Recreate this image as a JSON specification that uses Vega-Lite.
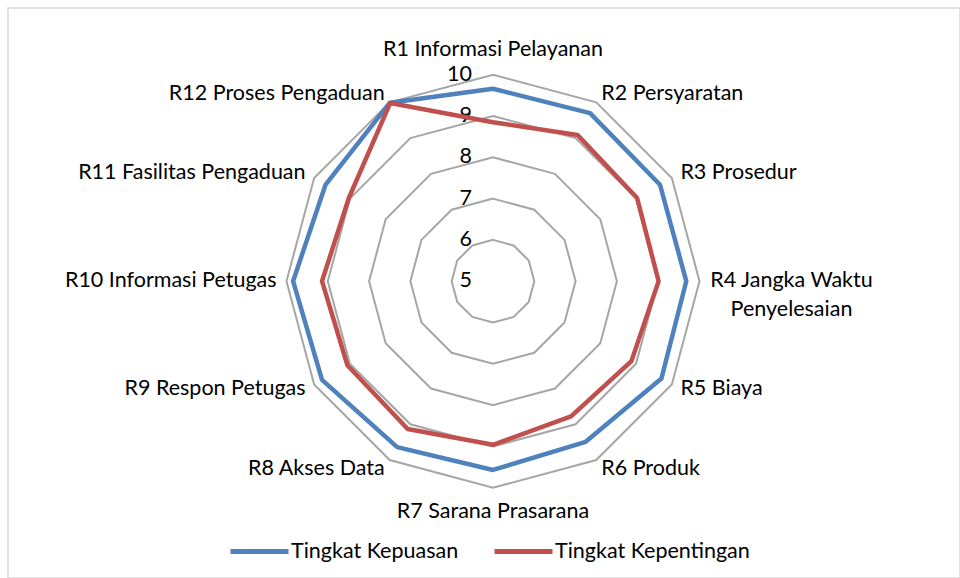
{
  "$schema": "https://vega.github.io/schema/vega-lite/v6.json",
  "width": 952,
  "height": 570,
  "autosize": {"type": "none"},
  "padding": {"left": 8, "top": 8, "right": 0, "bottom": 0},
  "background": "white",
  "config": {
    "view": {"stroke": "#D9D9D9", "strokeWidth": 1.5},
    "text": {"font": "Lato", "fontSize": 21.5, "color": "#000000"}
  },
  "datasets": {
    "cats": [
      {"idx": 0, "name": "R1 Informasi Pelayanan", "Tingkat Kepuasan": 9.66, "Tingkat Kepentingan": 8.85},
      {"idx": 1, "name": "R2 Persyaratan", "Tingkat Kepuasan": 9.70, "Tingkat Kepentingan": 9.09},
      {"idx": 2, "name": "R3 Prosedur", "Tingkat Kepuasan": 9.67, "Tingkat Kepentingan": 9.03},
      {"idx": 3, "name": "R4 Jangka Waktu\nPenyelesaian", "Tingkat Kepuasan": 9.68, "Tingkat Kepentingan": 9.01},
      {"idx": 4, "name": "R5 Biaya", "Tingkat Kepuasan": 9.71, "Tingkat Kepentingan": 8.87},
      {"idx": 5, "name": "R6 Produk", "Tingkat Kepuasan": 9.49, "Tingkat Kepentingan": 8.78},
      {"idx": 6, "name": "R7 Sarana Prasarana", "Tingkat Kepuasan": 9.57, "Tingkat Kepentingan": 8.96},
      {"idx": 7, "name": "R8 Akses Data", "Tingkat Kepuasan": 9.64, "Tingkat Kepentingan": 9.13},
      {"idx": 8, "name": "R9 Respon Petugas", "Tingkat Kepuasan": 9.78, "Tingkat Kepentingan": 9.07},
      {"idx": 9, "name": "R10 Informasi Petugas", "Tingkat Kepuasan": 9.84, "Tingkat Kepentingan": 9.14},
      {"idx": 10, "name": "R11 Fasilitas Pengaduan", "Tingkat Kepuasan": 9.68, "Tingkat Kepentingan": 9.03},
      {"idx": 11, "name": "R12 Proses Pengaduan", "Tingkat Kepuasan": 9.99, "Tingkat Kepentingan": 9.98}
    ],
    "grid": [
      {"level": 6, "idx": [0, 1, 2, 3, 4, 5, 6, 7, 8, 9, 10, 11]},
      {"level": 7, "idx": [0, 1, 2, 3, 4, 5, 6, 7, 8, 9, 10, 11]},
      {"level": 8, "idx": [0, 1, 2, 3, 4, 5, 6, 7, 8, 9, 10, 11]},
      {"level": 9, "idx": [0, 1, 2, 3, 4, 5, 6, 7, 8, 9, 10, 11]},
      {"level": 10, "idx": [0, 1, 2, 3, 4, 5, 6, 7, 8, 9, 10, 11]}
    ],
    "ticks": [
      {"level": 5}, {"level": 6}, {"level": 7}, {"level": 8}, {"level": 9}, {"level": 10}
    ]
  },
  "encoding": {
    "x": {"field": "px", "type": "quantitative", "scale": {"domain": [-11.743, 11.308], "nice": false, "zero": false}, "axis": null},
    "y": {"field": "py", "type": "quantitative", "scale": {"domain": [-7.186, 6.615], "nice": false, "zero": false}, "axis": null}
  },
  "layer": [
    {
      "data": {"name": "grid"},
      "transform": [
        {"flatten": ["idx"]},
        {"calculate": "datum.idx * PI / 6", "as": "a"},
        {"calculate": "(datum.level - 5) * sin(datum.a)", "as": "px"},
        {"calculate": "(datum.level - 5) * cos(datum.a)", "as": "py"}
      ],
      "mark": {"type": "line", "interpolate": "linear-closed", "color": "#A6A6A6", "strokeWidth": 2},
      "encoding": {
        "detail": {"field": "level", "type": "nominal"},
        "order": {"field": "idx", "type": "quantitative"}
      }
    },
    {
      "data": {"name": "ticks"},
      "transform": [
        {"calculate": "0", "as": "px"},
        {"calculate": "datum.level - 5", "as": "py"}
      ],
      "mark": {"type": "text", "align": "right", "baseline": "middle", "dx": -21},
      "encoding": {"text": {"field": "level", "type": "nominal"}}
    },
    {
      "data": {"name": "cats"},
      "transform": [
        {"fold": ["Tingkat Kepuasan", "Tingkat Kepentingan"], "as": ["series", "value"]},
        {"filter": "datum.series === 'Tingkat Kepuasan'"},
        {"calculate": "datum.idx * PI / 6", "as": "a"},
        {"calculate": "(datum.value - 5) * sin(datum.a)", "as": "px"},
        {"calculate": "(datum.value - 5) * cos(datum.a)", "as": "py"}
      ],
      "mark": {"type": "line", "interpolate": "linear-closed", "strokeWidth": 4.5, "strokeJoin": "round"},
      "encoding": {
        "color": {
          "field": "series", "type": "nominal",
          "scale": {"domain": ["Tingkat Kepuasan", "Tingkat Kepentingan"], "range": ["#4F81BD", "#C0504D"]},
          "legend": {
            "title": null, "orient": "none", "legendX": 220, "legendY": 512, "direction": "horizontal",
            "symbolType": "stroke", "symbolSize": 3364, "symbolStrokeWidth": 5,
            "labelFont": "Lato", "labelFontSize": 21.5, "labelColor": "#000000", "labelOffset": 0,
            "labelLimit": 400, "columnPadding": 25, "padding": 0
          }
        },
        "order": {"field": "idx", "type": "quantitative"}
      }
    },
    {
      "data": {"name": "cats"},
      "transform": [
        {"fold": ["Tingkat Kepuasan", "Tingkat Kepentingan"], "as": ["series", "value"]},
        {"filter": "datum.series === 'Tingkat Kepentingan'"},
        {"calculate": "datum.idx * PI / 6", "as": "a"},
        {"calculate": "(datum.value - 5) * sin(datum.a)", "as": "px"},
        {"calculate": "(datum.value - 5) * cos(datum.a)", "as": "py"}
      ],
      "mark": {"type": "line", "interpolate": "linear-closed", "strokeWidth": 4.5, "strokeJoin": "round"},
      "encoding": {
        "color": {"field": "series", "type": "nominal"},
        "order": {"field": "idx", "type": "quantitative"}
      }
    },
    {
      "data": {"name": "cats"},
      "transform": [
        {"filter": "datum.idx === 1 || datum.idx === 2 || datum.idx === 4 || datum.idx === 5"},
        {"calculate": "datum.idx * PI / 6", "as": "a"},
        {"calculate": "5.24 * sin(datum.a)", "as": "px"},
        {"calculate": "5.24 * cos(datum.a)", "as": "py"}
      ],
      "mark": {"type": "text", "align": "left", "baseline": "middle"},
      "encoding": {"text": {"field": "name", "type": "nominal"}}
    },
    {
      "data": {"name": "cats"},
      "transform": [
        {"filter": "datum.idx >= 7"},
        {"calculate": "datum.idx * PI / 6", "as": "a"},
        {"calculate": "5.24 * sin(datum.a)", "as": "px"},
        {"calculate": "5.24 * cos(datum.a)", "as": "py"}
      ],
      "mark": {"type": "text", "align": "right", "baseline": "middle"},
      "encoding": {"text": {"field": "name", "type": "nominal"}}
    },
    {
      "data": {"name": "cats"},
      "transform": [
        {"filter": "datum.idx === 0 || datum.idx === 6"},
        {"calculate": "datum.idx * PI / 6", "as": "a"},
        {"calculate": "5.6 * sin(datum.a)", "as": "px"},
        {"calculate": "5.6 * cos(datum.a)", "as": "py"}
      ],
      "mark": {"type": "text", "align": "center", "baseline": "middle"},
      "encoding": {"text": {"field": "name", "type": "nominal"}}
    },
    {
      "data": {"name": "cats"},
      "transform": [
        {"filter": "datum.idx === 3"},
        {"calculate": "5", "as": "px"},
        {"calculate": "0", "as": "py"}
      ],
      "mark": {"type": "text", "align": "center", "baseline": "middle", "dx": 92, "lineBreak": "\n", "lineHeight": 29},
      "encoding": {"text": {"field": "name", "type": "nominal"}}
    }
  ]
}
